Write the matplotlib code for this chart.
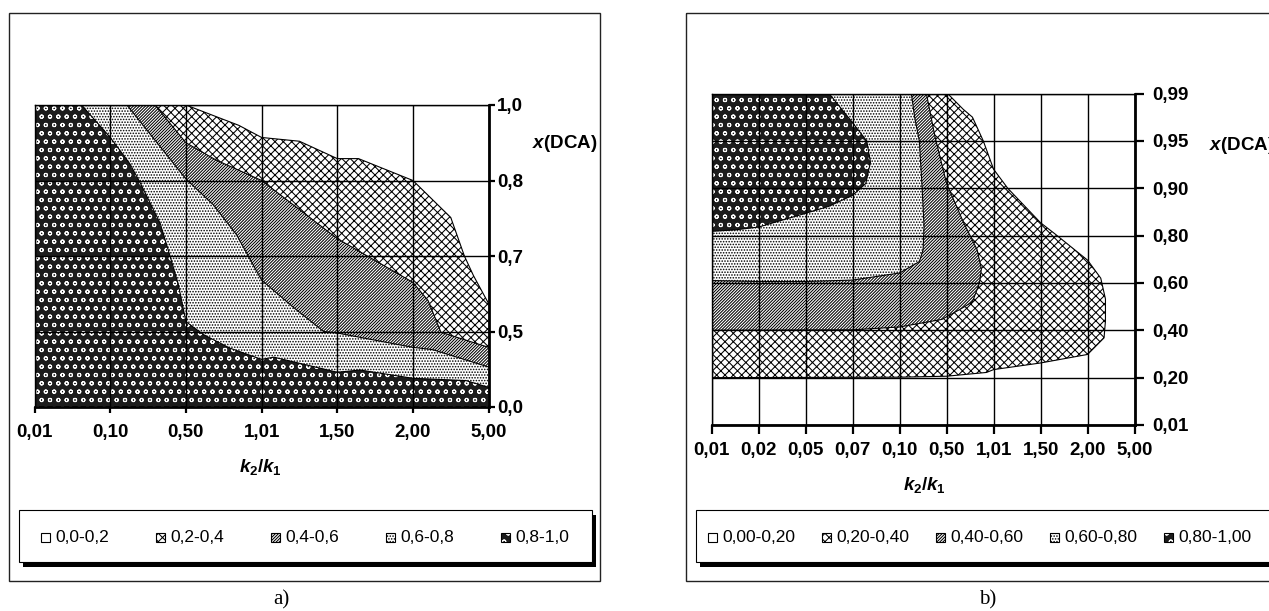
import numpy as np
import matplotlib
matplotlib.use("Agg")
import matplotlib.pyplot as plt
from matplotlib.patches import Rectangle

plt.rcParams["font.family"] = "Liberation Sans"
plt.rcParams["mathtext.fontset"] = "custom"
plt.rcParams["mathtext.rm"] = "Liberation Sans:bold"
plt.rcParams["mathtext.it"] = "Liberation Sans:italic:bold"
plt.rcParams["mathtext.bf"] = "Liberation Sans:bold"
plt.rcParams["hatch.linewidth"] = 0.75

W, H = 1269, 611

# legend labels
bands_a = ["0,0-0,2", "0,2-0,4", "0,4-0,6", "0,6-0,8", "0,8-1,0"]
bands_b = ["0,00-0,20", "0,20-0,40", "0,40-0,60", "0,60-0,80", "0,80-1,00"]

# panel a: category axes
a_xticks = ["0,01", "0,10", "0,50", "1,01", "1,50", "2,00", "5,00"]
a_yticks = ["0,0", "0,5", "0,7", "0,8", "1,0"]

# panel a: contour lines (category units), top edge -> right edge
a_x02 = [2.0, 2.7, 3.0, 3.5, 4.0, 4.28, 5.0, 5.5, 5.68, 5.8, 6.0]
a_y02 = [4.0, 3.73, 3.57, 3.52, 3.29, 3.29, 3.0, 2.51, 2.0, 1.74, 1.37]
a_x04 = [1.59, 2.0, 2.4, 3.0, 4.0, 5.0, 5.2, 5.37, 6.0]
a_y04 = [4.0, 3.5, 3.27, 3.0, 2.23, 1.65, 1.41, 0.99, 0.79]
a_x06 = [1.22, 2.0, 2.36, 2.67, 3.0, 3.42, 3.82, 4.0, 5.0, 5.26, 6.0]
a_y06 = [4.0, 3.02, 2.68, 2.28, 1.68, 1.32, 1.0, 0.98, 0.79, 0.76, 0.53]
a_x08 = [0.62, 1.0, 1.26, 1.4, 1.66, 1.79, 1.9, 2.0, 2.23, 2.58, 3.0, 3.16, 4.0, 4.3, 5.0, 5.7, 6.0]
a_y08 = [4.0, 3.57, 3.22, 2.96, 2.43, 2.0, 1.62, 1.13, 0.96, 0.78, 0.63, 0.66, 0.46, 0.49, 0.38, 0.35, 0.26]

# panel b: category axes
b_xticks = ["0,01", "0,02", "0,05", "0,07", "0,10", "0,50", "1,01", "1,50", "2,00", "5,00"]
b_yticks = ["0,01", "0,20", "0,40", "0,60", "0,80", "0,90", "0,95", "0,99"]

# panel b: contour lines (category units), top edge -> left edge
b_x02 = [5.02, 5.35, 5.55, 5.78, 6.0, 6.3, 7.0, 7.3, 8.0, 8.28, 8.38, 8.38, 8.35, 8.0, 7.0, 6.0, 5.85, 5.0, 4.0, 0.0]
b_y02 = [7.0, 6.67, 6.5, 6.0, 5.4, 5.0, 4.27, 4.04, 3.48, 3.1, 2.66, 2.2, 1.84, 1.49, 1.31, 1.17, 1.11, 1.03, 1.01, 1.0]
b_x04 = [4.57, 4.75, 5.0, 5.35, 5.65, 5.74, 5.7, 5.55, 5.3, 4.9, 4.45, 4.0, 3.0, 0.0]
b_y04 = [7.0, 6.1, 5.1, 4.3, 3.7, 3.3, 3.0, 2.6, 2.45, 2.23, 2.15, 2.07, 2.01, 2.0]
b_x06 = [4.25, 4.32, 4.42, 4.48, 4.52, 4.5, 4.42, 4.0, 3.0, 2.0, 1.0, 0.0]
b_y06 = [7.0, 6.5, 6.0, 5.0, 4.2, 3.7, 3.45, 3.21, 3.06, 3.03, 3.03, 3.05]
b_x08 = [2.5, 2.97, 3.3, 3.38, 3.28, 3.0, 2.5, 2.0, 1.0, 0.5, 0.0]
b_y08 = [7.0, 6.42, 6.0, 5.55, 5.1, 4.85, 4.62, 4.47, 4.18, 4.12, 4.09]

# fill styles per band (0.0-0.2 ... 0.8-1.0)
styles = [
    dict(fc="white", hc="black", hatch=""),
    dict(fc="white", hc="black", hatch="xxxx"),
    dict(fc="white", hc="black", hatch="/" * 11),
    dict(fc="white", hc="black", hatch="......"),
    dict(fc="#1c1c1c", hc="white", hatch="oo"),
]


def fig_rect(left, top, right, bottom):
    return [left / W, 1 - bottom / H, (right - left) / W, (bottom - top) / H]


def draw_panel(ax, xt, yt, lines, corners, tick_len, ypad, xpad):
    nx, ny = len(xt) - 1, len(yt) - 1
    cx = [c[0] for c in corners]
    cy = [c[1] for c in corners]
    for k, (x, y) in enumerate(lines):
        st = styles[k + 1]
        ax.fill(list(x) + cx, list(y) + cy, facecolor=st["fc"], edgecolor=st["hc"],
                hatch=st["hatch"], linewidth=0, zorder=1 + k * 0.1)
        ax.plot(x, y, color="black", lw=0.8, zorder=1.05 + k * 0.1)
    ax.set_xlim(0, nx)
    ax.set_ylim(0, ny)
    ax.set_xticks(range(nx + 1))
    ax.set_xticklabels(xt, fontsize=13.5, fontweight="bold")
    ax.set_yticks(range(ny + 1))
    ax.set_yticklabels(yt, fontsize=13.5, fontweight="bold")
    ax.yaxis.tick_right()
    ax.tick_params(axis="x", direction="out", length=tick_len, width=1.6, pad=xpad)
    ax.tick_params(axis="y", direction="out", length=tick_len, width=1.6, pad=ypad)
    ax.grid(True, color="black", lw=1.0)
    ax.set_axisbelow(False)
    for s in ["left", "top"]:
        ax.spines[s].set_linewidth(1.0)
    for s in ["right", "bottom"]:
        ax.spines[s].set_linewidth(2.0)


def draw_legend(bg, labels, left, right, top, bottom, x0, step):
    bg.add_patch(Rectangle((left + 4, top + 5), right - left, bottom - top,
                           facecolor="black", edgecolor="none", zorder=1))
    bg.add_patch(Rectangle((left, top), right - left, bottom - top,
                           facecolor="white", edgecolor="black", lw=0.8, zorder=2))
    yc = (top + bottom) / 2 + 1
    for i, lab in enumerate(labels):
        st = styles[i]
        mx = x0 + i * step
        bg.add_patch(Rectangle((mx - 4.5, yc - 4.5), 9, 9, facecolor=st["fc"],
                               edgecolor=st["hc"], hatch=st["hatch"], lw=0, zorder=3))
        bg.add_patch(Rectangle((mx - 4.5, yc - 4.5), 9, 9, facecolor="none",
                               edgecolor="black", lw=0.8, zorder=4))
        bg.text(mx + 10, yc, lab, fontsize=12.5, va="center", ha="left", zorder=4)


fig = plt.figure(figsize=(W / 100, H / 100), dpi=100)
bg = fig.add_axes([0, 0, 1, 1])
bg.set_xlim(0, W)
bg.set_ylim(H, 0)
bg.axis("off")

# chart area borders
bg.add_patch(Rectangle((9, 13), 591, 568, fill=False, edgecolor="#222222", lw=1.0))
bg.add_patch(Rectangle((686, 13), 591, 568, fill=False, edgecolor="#222222", lw=1.0))

# panel a
ax_a = fig.add_axes(fig_rect(34.6, 105, 488.6, 407))
draw_panel(ax_a, a_xticks, a_yticks,
           [(a_x02, a_y02), (a_x04, a_y04), (a_x06, a_y06), (a_x08, a_y08)],
           [(len(a_xticks) - 1, 0), (0, 0), (0, len(a_yticks) - 1)],
           tick_len=4.5, ypad=1.5, xpad=8)
bg.text(260.7, 467, r"$k_2/k_1$", fontsize=13.5, ha="center", va="center")
bg.text(532, 144, r"$x$(DCA)", fontsize=13.5, fontweight="bold", ha="left", va="center")
draw_legend(bg, bands_a, 18.6, 592, 510, 562, 45, 115)
bg.text(281, 600, "a)", fontsize=15, family="Liberation Serif", ha="center", va="center")

# panel b
ax_b = fig.add_axes(fig_rect(711.6, 93.5, 1134.6, 425))
draw_panel(ax_b, b_xticks, b_yticks,
           [(b_x02, b_y02), (b_x04, b_y04), (b_x06, b_y06), (b_x08, b_y08)],
           [(0, len(b_yticks) - 1)],
           tick_len=6.5, ypad=6, xpad=6)
bg.text(924, 485, r"$k_2/k_1$", fontsize=13.5, ha="center", va="center")
bg.text(1209, 146, r"$x$(DCA)", fontsize=13.5, fontweight="bold", ha="left", va="center")
draw_legend(bg, bands_b, 695.7, 1277, 510, 562, 712, 114)
bg.text(988, 600, "b)", fontsize=15, family="Liberation Serif", ha="center", va="center")

fig.savefig("out.png", dpi=100)
